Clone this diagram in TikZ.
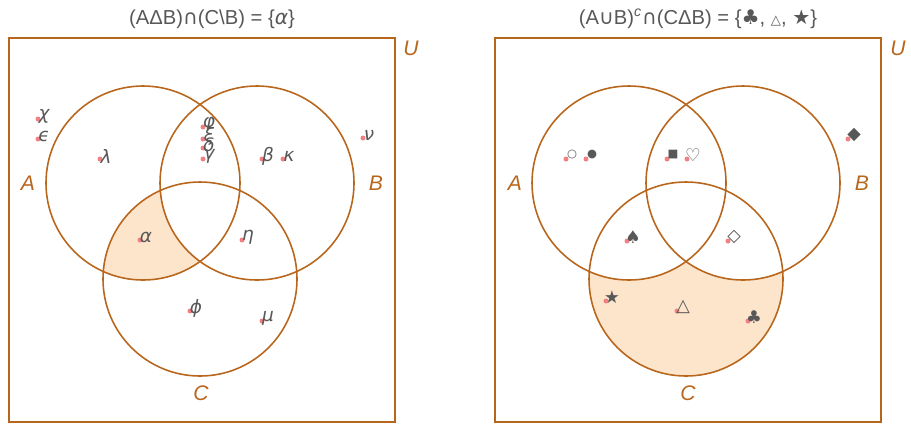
\documentclass[tikz,border=0pt]{standalone}
\usepackage{fontspec}
\setmainfont{Liberation Sans}
\newfontfamily\symfont{DejaVu Sans}
\usetikzlibrary{positioning}
\definecolor{VennLine}{RGB}{184,102,28}
\definecolor{VennFill}{RGB}{253,229,204}
\definecolor{DotColor}{RGB}{242,128,130}
\definecolor{TextGray}{RGB}{88,88,88}

\begin{document}
\begin{tikzpicture}[
  x=0.02cm, y=-0.02cm,
  setline/.style={draw=VennLine, line width=0.9pt},
  frame/.style={draw=VennLine, line width=1.1pt},
  setname/.style={text=VennLine, font=\fontsize{12}{12}\selectfont\itshape, inner sep=0pt},
  title/.style={text=TextGray, font=\fontsize{11.5}{13}\selectfont, inner sep=0pt},
  elem/.style={text=TextGray, font=\symfont\fontsize{10.5}{10.5}\selectfont\itshape, inner sep=0pt},
  sym/.style={text=TextGray, font=\symfont\fontsize{10}{10}\selectfont, inner sep=0pt},
  small sym/.style={sym, font=\symfont\fontsize{6.5}{6.5}\selectfont},
  dot/.style={fill=DotColor}
]
\useasboundingbox (0,0) rectangle (911,424);

% ================ left: (A delta B) cap (C \ B) ================
\begin{scope}
  \begin{scope}
    \clip (143,183) circle (97);
    \clip (200,279) circle (97);
    \fill[VennFill] (0,0) rectangle (400,424);
    \fill[white] (257,183) circle (97);
  \end{scope}
  \draw[frame] (9,38) rectangle (395,422);
  \draw[setline] (143,183) circle (97);
  \draw[setline] (257,183) circle (97);
  \draw[setline] (200,279) circle (97);

  \node[setname] (lA) at (28,183) {A};
  \node[setname] (lB) at (376,183) {B};
  \node[setname] (lC) at (201,393) {C};
  \node[setname] (lU) at (411,48) {U};
  \node[title] (lTitle) at (212,19)
    {(AΔB){\symfont∩}(C\textbackslash B) = \{{\symfont\itshape α}\}};

  \foreach \n/\x/\y/\t in {chi/38/119/χ, eps/38/139/ϵ, lam/100/159/λ,
      phiA/203/127/φ, xi/203/139/ξ, del/203/148/δ, gam/203/159/γ,
      beta/262/159/β, kap/283/159/κ, nu/363/138/ν, alp/140/240/α,
      eta/242/240/η, phiB/190/311/ϕ, mu/262/321/μ} {
    \fill[dot] (\x,\y) circle (2.5);
    \node[elem] (l-\n) at (\x+6,\y-3) {\t};
  }
\end{scope}

% ================ right: (A cup B)^c cap (C delta B) ================
\begin{scope}[shift={(486,0)}]
  \begin{scope}
    \clip (200,279) circle (97);
    \fill[VennFill] (0,0) rectangle (400,424);
    \fill[white] (143,183) circle (97);
    \fill[white] (257,183) circle (97);
  \end{scope}
  \draw[frame] (9,38) rectangle (395,422);
  \draw[setline] (143,183) circle (97);
  \draw[setline] (257,183) circle (97);
  \draw[setline] (200,279) circle (97);

  \node[setname] (rA) at (29,183) {A};
  \node[setname] (rB) at (376,183) {B};
  \node[setname] (rC) at (202,393) {C};
  \node[setname] (rU) at (412,48) {U};
  \node[title] (rTitle) at (212,19)
    {(A{\symfont∪}B)\textsuperscript{\itshape c}{\symfont∩}(CΔB) = \{{\symfont♣}, {\symfont\fontsize{7.5}{7.5}\selectfont△}, {\symfont★}\}};

  \foreach \n/\x/\y/\t in {heart/201/159/♡, spade/141/241/♠, wdiam/242/241/◇,
      star/120/301/★, tri/191/311/△, club/262/321/♣, bdiam/362/139/◆} {
    \fill[dot] (\x,\y) circle (2.5);
    \node[sym] (r-\n) at (\x+6,\y-4) {\t};
  }
  \foreach \n/\x/\y/\t in {wcirc/80/159/○, bcirc/100/159/●, sq/181/159/■} {
    \fill[dot] (\x,\y) circle (2.5);
    \node[small sym] (r-\n) at (\x+6,\y-4) {\t};
  }
\end{scope}
\end{tikzpicture}
\end{document}
